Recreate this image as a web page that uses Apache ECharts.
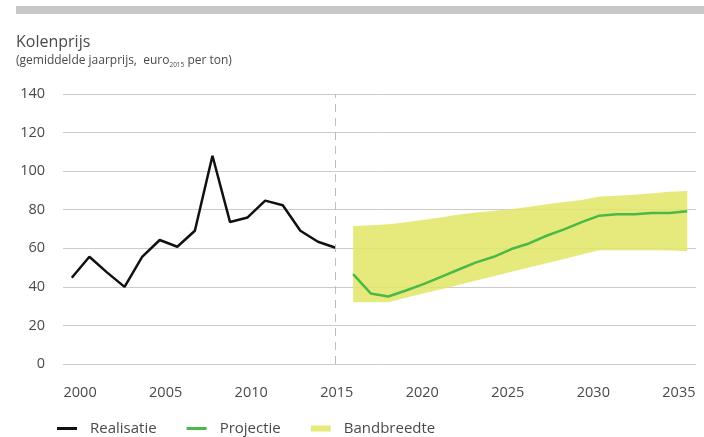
<!DOCTYPE html>
<html>
<head>
<meta charset="utf-8">
<script src="https://cdn.jsdelivr.net/npm/echarts@6/dist/echarts.min.js"></script>
<style>
html,body{margin:0;padding:0;background:#fff;}
#c{width:704px;height:437px;}
</style>
</head>
<body>
<div id="c"></div>
<script>
var histYears = [2000,2001,2002,2003,2004,2005,2006,2007,2008,2009,2010,2011,2012,2013,2014,2015];
var realisatie = [44.7,55.6,47.5,40,55.5,64.3,60.8,69.1,108,73.6,76,84.7,82.3,69.1,63.4,60.3];
var projYears = [2016,2017,2018,2019,2020,2021,2022,2023,2024,2025,2026,2027,2028,2029,2030,2031,2032,2033,2034,2035];
var projectie = [46.6,36.6,35,38.1,41.4,45.2,49,52.7,55.6,59.6,62.5,66.5,69.8,73.6,76.9,77.6,77.6,78.3,78.3,79.2];
var bandLow = [32,32,32,34.3,36.5,38.8,41,43.3,45.5,47.8,50,52.3,54.5,56.8,59,59,59,59,58.8,58.5];
var bandHigh = [71.5,72,72.4,73.5,74.8,76,77.5,78.5,79.5,80.3,81.5,82.8,84,85,86.8,87.3,87.8,88.5,89.3,89.7];
var xTickLabels = [2000,2005,2010,2015,2020,2025,2030,2035];
var yTicks = [0,20,40,60,80,100,120,140];

var FONT = '"Open Sans", "DejaVu Sans", sans-serif';
var TXT = '#4a4a4a';
var BAND = '#e6ea7c';
var BAND_FILL = 'rgba(226,230,101,0.85)';

function pairs(xs, ys){ return xs.map(function(x,i){ return [x, ys[i]]; }); }
var bandData = projYears.map(function(x,i){ return [x, bandLow[i], bandHigh[i]]; });

var chart = echarts.init(document.getElementById('c'));
chart.setOption({
  animation: false,
  backgroundColor: '#fff',
  textStyle: { fontFamily: FONT },
  graphic: [
    { type: 'rect', shape: { x: 16, y: 6, width: 688, height: 8 }, style: { fill: '#c8c8c8' } },
    { type: 'text', left: 16, top: 34, style: { text: 'Kolenprijs', fontFamily: FONT, fontSize: 16, fill: TXT } },
    { type: 'text', left: 16, top: 55, style: {
        text: '(gemiddelde jaarprijs,  euro{s|2015} per ton)',
        fontFamily: FONT, fontSize: 12, fill: TXT,
        rich: { s: { fontSize: 6.5, fontFamily: FONT, fill: TXT, padding: [8,0,0,0] } }
    } }
  ],
  grid: { left: 63, right: 8, top: 94, bottom: 73, containLabel: false },
  xAxis: [
    { type: 'value', min: 1999.5, max: 2035.5, show: false },
    { type: 'value', min: 1999, max: 2036, position: 'bottom',
      axisLine: { show: false }, axisTick: { show: false }, splitLine: { show: false },
      axisLabel: { customValues: xTickLabels, fontSize: 14.5, color: TXT, margin: 21, fontFamily: FONT,
        formatter: function(v){ return String(v); } } }
  ],
  yAxis: {
    type: 'value', min: 0, max: 140, interval: 20,
    axisLine: { show: false }, axisTick: { show: false },
    splitLine: { lineStyle: { color: '#cccccc', width: 1 } },
    axisLabel: { fontSize: 14.5, color: TXT, margin: 18, fontFamily: FONT,
      customValues: yTicks }
  },
  legend: {
    top: 416, left: 52, itemWidth: 20, itemHeight: 6, itemGap: 30,
    textStyle: { fontSize: 15, color: TXT, fontFamily: FONT, padding: [0,0,0,8] },
    data: [
      { name: 'Realisatie', icon: 'path://M0,0 H20 V3 H0 Z', itemStyle: { color: '#111' } },
      { name: 'Projectie', icon: 'path://M0,0 H20 V3 H0 Z', itemStyle: { color: '#4cb848' } },
      { name: 'Bandbreedte', icon: 'rect', itemStyle: { color: BAND } }
    ]
  },
  series: [
    { name: 'Bandbreedte', type: 'custom', xAxisIndex: 0, data: bandData,
      itemStyle: { color: BAND }, silent: true, z: 1,
      encode: { x: 0, y: [1, 2] },
      renderItem: function(params, api){
        if (params.dataIndex !== 0) return null;
        var pts = [];
        for (var i = 0; i < bandData.length; i++) pts.push(api.coord([bandData[i][0], bandData[i][2]]));
        for (var j = bandData.length - 1; j >= 0; j--) pts.push(api.coord([bandData[j][0], bandData[j][1]]));
        return { type: 'polygon', shape: { points: pts }, style: { fill: BAND_FILL } };
      } },
    { name: 'Realisatie', type: 'line', xAxisIndex: 0, data: pairs(histYears, realisatie),
      symbol: 'none', lineStyle: { color: '#111', width: 2.5 }, itemStyle: { color: '#111' }, z: 3,
      markLine: { silent: true, symbol: 'none', label: { show: false },
        lineStyle: { color: '#bdbdbd', type: [8, 6], width: 1 },
        data: [{ xAxis: 2015 }] } },
    { name: 'Projectie', type: 'line', xAxisIndex: 0, data: pairs(projYears, projectie),
      symbol: 'none', lineStyle: { color: '#4cb848', width: 2.5 }, itemStyle: { color: '#4cb848' }, z: 3 }
  ]
});
</script>
</body>
</html>
